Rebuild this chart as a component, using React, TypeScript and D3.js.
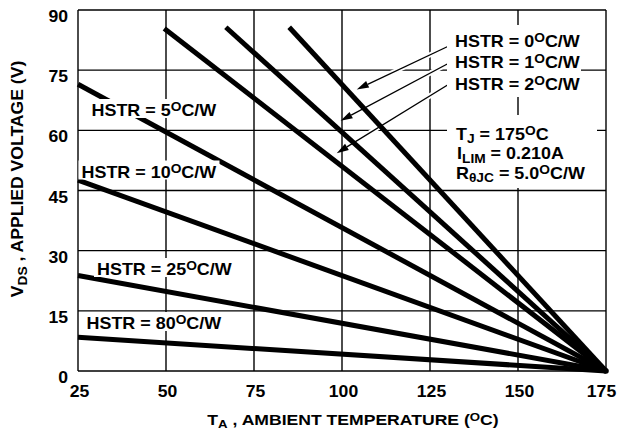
import React from 'react';
import * as d3 from 'd3';

// ---- data ----
const hstrLabels = ['0', '1', '2', '5', '10', '25', '80'];
const startTemps = [85, 67, 49.5, 25, 25, 25, 25];
const startVolts = [85.7, 85.7, 85.4, 71.5, 47.6, 23.8, 8.4];
const endTemp = 175;
const endVolt = 0;
const xTicks = [25, 50, 75, 100, 125, 150, 175];
const yTicks = [0, 15, 30, 45, 60, 75, 90];
const arrowLabels = ['0', '1', '2'];
const arrowTipTemps = [104.2, 99.6, 98.5];
const arrowTipVolts = [70.2, 62.4, 54.3];
const junctionTemp = '175';
const currentLimit = '0.210A';
const thetaJC = '5.0';

const W = 618;
const H = 430;
const FONT = '"Liberation Sans", Arial, Helvetica, sans-serif';
const SX = 1.1;

const x = d3.scaleLinear().domain([25, 175]).range([78, 606]);
const y = d3.scaleLinear().domain([0, 90]).range([371, 10]);
const line = d3.line<[number, number]>().x(d => x(d[0])).y(d => y(d[1]));

const HstrText = ({ v }: { v: string }) => (
  <>
    {`HSTR = ${v}`}
    <tspan fontSize={12.5} dy={-4.8}>O</tspan>
    <tspan dy={4.8}>C/W</tspan>
  </>
);

const STxt = ({ tx, ty, size = 16.3, anchor = 'start', rot = 0, sx = SX, children }: any) => (
  <text
    transform={`translate(${tx},${ty}) rotate(${rot}) scale(${sx},1)`}
    fontFamily={FONT}
    fontWeight="bold"
    fontSize={size}
    textAnchor={anchor}
    fill="#000"
  >
    {children}
  </text>
);

// left in-plot label anchors (text left, baseline, knockout width)
const leftLabelPos: Record<string, [number, number, number]> = {
  '5': [91.5, 116, 127],
  '10': [81.5, 177.5, 137],
  '25': [97, 275, 139],
  '80': [86.5, 329, 139],
};

export default function App() {
  const arrows = arrowLabels.map((lab, i) => {
    const sx = [453, 451, 450][i];
    const sy = [44, 62, 83.5][i];
    const tx = x(arrowTipTemps[i]);
    const ty = y(arrowTipVolts[i]);
    const dx = tx - sx;
    const dy = ty - sy;
    const len = Math.hypot(dx, dy);
    const ux = dx / len;
    const uy = dy / len;
    const L = 12;
    const Wd = 3.6;
    const bx = tx - ux * L;
    const by = ty - uy * L;
    const head = `${tx},${ty} ${bx - uy * Wd},${by + ux * Wd} ${bx + uy * Wd},${by - ux * Wd}`;
    return { lab, sx, sy, tx, ty, bx, by, head };
  });

  return (
    <svg width={W} height={H} style={{ position: 'absolute', left: 0, top: 0, background: '#fff' }}>
      <rect x={0} y={0} width={W} height={H} fill="#fff" />
      {/* grid */}
      {xTicks.map(t => (
        <line key={'gx' + t} x1={x(t)} x2={x(t)} y1={y(0)} y2={y(90)} stroke="#000" strokeWidth={1.4} />
      ))}
      {yTicks.map(t => (
        <line key={'gy' + t} x1={x(25)} x2={x(175)} y1={y(t)} y2={y(t)} stroke="#000" strokeWidth={1.4} />
      ))}
      {/* leader halos */}
      {arrows.map(a => (
        <line key={'h' + a.lab} x1={a.sx} y1={a.sy} x2={a.bx} y2={a.by} stroke="#fff" strokeWidth={5} />
      ))}
      {/* data lines */}
      {hstrLabels.map((h, i) => (
        <path
          key={'l' + h}
          d={line([[startTemps[i], startVolts[i]], [endTemp, endVolt]]) || ''}
          fill="none"
          stroke="#000"
          strokeWidth={5}
        />
      ))}
      <circle cx={x(endTemp)} cy={y(endVolt)} r={2.8} fill="#000" />
      {/* leaders */}
      {arrows.map(a => (
        <g key={'a' + a.lab}>
          <line x1={a.sx} y1={a.sy} x2={a.bx} y2={a.by} stroke="#000" strokeWidth={1.3} />
          <polygon points={a.head} fill="#000" />
        </g>
      ))}
      {/* knockout boxes */}
      {Object.entries(leftLabelPos).map(([k, [lx, by, w]]) => (
        <rect key={'b' + k} x={lx - 3} y={by - 17} width={w + 4} height={19} fill="#fff" />
      ))}
      <rect x={447} y={25} width={134} height={72} fill="#fff" />
      <rect x={447} y={115} width={150} height={73} fill="#fff" />

      {/* left labels */}
      {Object.entries(leftLabelPos).map(([k, [lx, by]]) => (
        <STxt key={'t' + k} tx={lx} ty={by}>
          <HstrText v={k} />
        </STxt>
      ))}
      {/* top-right labels */}
      {arrowLabels.map((k, i) => (
        <STxt key={'tr' + k} tx={455} ty={[46.5, 68, 89.5][i]}>
          <HstrText v={k} />
        </STxt>
      ))}
      {/* conditions */}
      <STxt tx={456} ty={139.5}>
        T<tspan fontSize={12.5} dy={3.5}>J</tspan>
        <tspan dy={-3.5}>{` = ${junctionTemp}`}</tspan>
        <tspan fontSize={12.5} dy={-4.8}>O</tspan>
        <tspan dy={4.8}>C</tspan>
      </STxt>
      <STxt tx={457} ty={159.3}>
        I<tspan fontSize={12.5} dy={3.5}>LIM</tspan>
        <tspan dy={-3.5}>{` = ${currentLimit}`}</tspan>
      </STxt>
      <STxt tx={456} ty={178.5}>
        R<tspan fontSize={12.5} dy={3.5}>θJC</tspan>
        <tspan dy={-3.5}>{` = ${thetaJC}`}</tspan>
        <tspan fontSize={12.5} dy={-4.8}>O</tspan>
        <tspan dy={4.8}>C/W</tspan>
      </STxt>

      {/* tick labels */}
      {yTicks.map(t => (
        <STxt key={'yl' + t} tx={68} ty={y(t) + 12} size={16} anchor="end">
          {String(t)}
        </STxt>
      ))}
      {xTicks.map((t, i) => (
        <STxt
          key={'xl' + t}
          tx={x(t) + (i === xTicks.length - 1 ? -4.5 : 1.5)}
          ty={397}
          size={16}
          anchor="middle"
        >
          {String(t)}
        </STxt>
      ))}
      {/* axis titles */}
      <STxt tx={353} ty={425} size={15.3} anchor="middle" sx={1.15}>
        T<tspan fontSize={11.5} dy={3}>A</tspan>
        <tspan dy={-3}>{' , AMBIENT TEMPERATURE ('}</tspan>
        <tspan fontSize={11.5} dy={-4.5}>O</tspan>
        <tspan dy={4.5}>C)</tspan>
      </STxt>
      <STxt tx={23.3} ty={179} size={16} anchor="middle" rot={-90}>
        V<tspan fontSize={12.5} dy={3.5}>DS</tspan>
        <tspan dy={-3.5}>{' , APPLIED VOLTAGE (V)'}</tspan>
      </STxt>
    </svg>
  );
}
